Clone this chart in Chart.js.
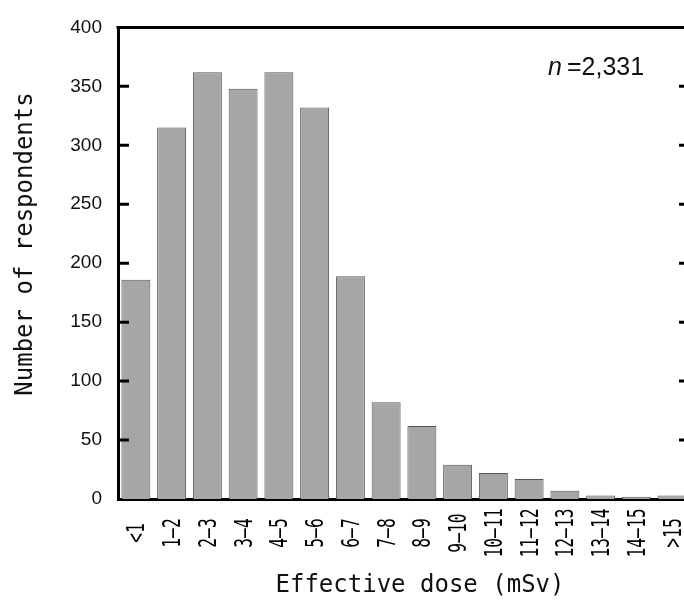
<!DOCTYPE html>
<html>
<head>
<meta charset="utf-8">
<script src="https://cdn.jsdelivr.net/npm/chart.js@4/dist/chart.umd.min.js"></script>
<style>
  html, body { margin: 0; padding: 0; background: #fff; overflow: hidden; }
  #wrap { width: 684px; height: 604px; overflow: hidden; }
  canvas { display: block; }
</style>
</head>
<body>
<div id="wrap"><canvas id="doseChart" width="700" height="604"></canvas></div>
<script>
const categories = ['<1', '1–2', '2–3', '3–4', '4–5', '5–6', '6–7', '7–8', '8–9', '9–10', '10–11', '11–12', '12–13', '13–14', '14–15', '>15'];
const respondents = [186, 315, 362, 348, 362, 332, 189, 82, 62, 29, 22, 17, 7, 3, 2, 3];
const innerTicks = [50, 100, 150, 200, 250, 300, 350];
const xTitle = 'Effective dose (mSv)';
const yTitle = 'Number of respondents';
const sampleLabel = '=2,331';

const mono = '"DejaVu Sans Mono", "Liberation Mono", monospace';
const sans = '"Liberation Sans", Arial, sans-serif';

// ticks inside the frame, top rule, rotated category labels and text
const decorations = {
    id: 'decorations',
    afterDraw(chart) {
        const { ctx, chartArea, scales } = chart;
        const { left, right, top } = chartArea;
        ctx.save();
        ctx.strokeStyle = '#000';
        ctx.lineWidth = 3;
        ctx.beginPath();
        ctx.moveTo(left - 1.5, top);
        ctx.lineTo(right + 2, top);
        ctx.stroke();

        innerTicks.forEach(v => {
            const py = scales.y.getPixelForValue(v);
            ctx.beginPath();
            ctx.moveTo(left, py);
            ctx.lineTo(left + 11, py);
            ctx.moveTo(right - 11, py);
            ctx.lineTo(right, py);
            ctx.stroke();
        });

        ctx.fillStyle = '#000';
        ctx.font = '24px ' + mono;
        ctx.textAlign = 'center';
        ctx.textBaseline = 'alphabetic';
        categories.forEach((c, i) => {
            const px = scales.x.getPixelForValue(i);
            ctx.save();
            ctx.translate(px, 533);
            ctx.rotate(-Math.PI / 2);
            ctx.scale(0.68, 1);
            ctx.fillText(c, 0, 8.5);
            ctx.restore();
        });

        ctx.fillStyle = '#111';
        ctx.font = '24px ' + mono;
        ctx.fillText(xTitle, 420, 592);

        ctx.save();
        ctx.translate(32, 244);
        ctx.rotate(-Math.PI / 2);
        ctx.fillText(yTitle, 0, 0);
        ctx.restore();

        ctx.textAlign = 'left';
        ctx.font = 'italic 25px ' + sans;
        ctx.fillText('n', 548, 75);
        ctx.font = '25px ' + sans;
        ctx.fillText(sampleLabel, 567, 75);
        ctx.restore();
    }
};

new Chart(document.getElementById('doseChart'), {
    type: 'bar',
    data: {
        labels: categories,
        datasets: [{
            label: yTitle,
            data: respondents,
            backgroundColor: '#a6a6a6',
            borderColor: '#555',
            borderWidth: 1,
            categoryPercentage: 1,
            barPercentage: 0.81
        }]
    },
    options: {
        responsive: false,
        animation: false,
        layout: { padding: { top: 25, right: 10, left: 0, bottom: 0 } },
        plugins: {
            legend: { display: false },
            tooltip: { enabled: false }
        },
        scales: {
            x: {
                grid: { display: false, drawTicks: false },
                border: { display: true, color: '#000', width: 3 },
                ticks: { display: false },
                afterFit(scale) { scale.height = 105; }
            },
            y: {
                min: 0,
                max: 400,
                grid: { display: false, drawTicks: false },
                border: { display: true, color: '#000', width: 3 },
                ticks: {
                    stepSize: 50,
                    padding: 16,
                    color: '#111',
                    font: { family: sans, size: 19 }
                },
                afterFit(scale) { scale.width = 118; }
            }
        }
    },
    plugins: [decorations]
});
</script>
</body>
</html>
